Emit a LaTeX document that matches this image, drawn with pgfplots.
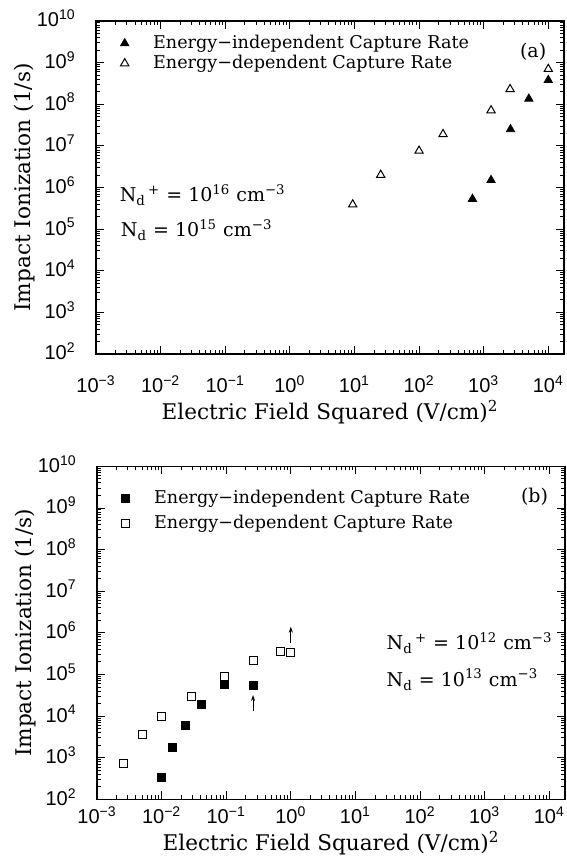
\documentclass[border=0pt]{standalone}
\usepackage{fontspec}
\setmainfont{DejaVu Serif}
\newfontfamily\tickfont{Liberation Sans}
\usepackage{pgfplots}
\pgfplotsset{compat=1.18}
\usetikzlibrary{arrows.meta}

\pgfplotsset{
  every axis/.append style={
    scale only axis, width=234pt, height=166.5pt,
    tick label style={font=\tickfont\fontsize{10}{12}\selectfont},
    yticklabel style={anchor=base east, inner sep=0pt, xshift=-10pt, yshift=-3pt},
    label style={font=\fontsize{10.8}{12}\selectfont},
    ylabel style={at={(axis description cs:-0.152,0.5)}, anchor=center},
    axis line style={line width=0.6pt},
    tick style={black, line width=0.4pt},
    major tick length=4pt, minor tick length=2pt,
    legend style={draw=none, fill=none, anchor=north west, inner sep=0pt,
      font=\fontsize{8.8}{11}\selectfont,
      nodes={inner sep=1pt, text height=6.5pt, text depth=1.5pt}},
    legend cell align=left,
    legend image code/.code={\draw[#1] plot coordinates {(0pt,0pt)}; \path (-2.5pt,0pt) (13pt,0pt);},
    clip=false,
  },
}
\tikzset{anno/.style={font=\fontsize{9.5}{11}\selectfont, anchor=west, inner sep=0pt}}

\begin{document}
\begin{tikzpicture}
\path[use as bounding box] (0,0) rectangle (283.5pt,433.5pt);

% (a)
\begin{axis}[at={(48pt,256.5pt)}, anchor=south west,
  xmode=log, ymode=log,
  xmin=1e-3, xmax=1.75e4, ymin=1e2, ymax=1e10,
  xtick={1e-3,1e-2,1e-1,1,1e1,1e2,1e3,1e4},
  xticklabels={10\textsuperscript{−3},10\textsuperscript{−2},10\textsuperscript{−1},10\textsuperscript{0},
    10\textsuperscript{1},10\textsuperscript{2},10\textsuperscript{3},10\textsuperscript{4}},
  ytick={1e2,1e3,1e4,1e5,1e6,1e7,1e8,1e9,1e10},
  yticklabels={10\textsuperscript{2},10\textsuperscript{3},10\textsuperscript{4},10\textsuperscript{5},
    10\textsuperscript{6},10\textsuperscript{7},10\textsuperscript{8},10\textsuperscript{9},10\textsuperscript{10}},
  ylabel={Impact Ionization (1/s)},
  xlabel={Electric Field Squared (V/cm)\textsuperscript{2}},
  xticklabel style={anchor=base, yshift=-19.5pt},
  xlabel style={at={(axis description cs:0.5,0)}, anchor=center, yshift=-29pt},
  legend style={at={(axis description cs:0.049,0.964)}, row sep=0pt}]
\addplot[only marks, mark=triangle*, mark size=2.4pt, black] coordinates
  {(670,5.3e5) (1300,1.5e6) (2600,2.5e7) (5000,1.35e8) (1e4,3.8e8)};
\addlegendentry{Energy−independent Capture Rate}
\addplot[only marks, mark=triangle, mark size=2.4pt, black, mark options={line width=0.5pt}] coordinates
  {(9.4,3.9e5) (25.5,2e6) (100,7.6e6) (235,1.9e7) (1300,7.1e7) (2560,2.3e8) (1e4,7e8)};
\addlegendentry{Energy−dependent Capture Rate}
\node[anno] at (axis cs:3600,1.8e9) {(a)};
\node[anno] at (axis cs:2.3e-3,6.6e5) {N\textsubscript{d}\textsuperscript{\,+} = 10\textsuperscript{16} cm\textsuperscript{−3}};
\node[anno] at (axis cs:2.4e-3,9.5e4) {N\textsubscript{d} = 10\textsuperscript{15} cm\textsuperscript{−3}};
\end{axis}

% (b)
\begin{axis}[at={(48.5pt,33.85pt)}, anchor=south west,
  xmode=log, ymode=log,
  xmin=1e-3, xmax=1.75e4, ymin=1e2, ymax=1e10,
  xtick={1e-3,1e-2,1e-1,1,1e1,1e2,1e3,1e4},
  xticklabels={10\textsuperscript{−3},10\textsuperscript{−2},10\textsuperscript{−1},10\textsuperscript{0},
    10\textsuperscript{1},10\textsuperscript{2},10\textsuperscript{3},10\textsuperscript{4}},
  ytick={1e2,1e3,1e4,1e5,1e6,1e7,1e8,1e9,1e10},
  yticklabels={10\textsuperscript{2},10\textsuperscript{3},10\textsuperscript{4},10\textsuperscript{5},
    10\textsuperscript{6},10\textsuperscript{7},10\textsuperscript{8},10\textsuperscript{9},10\textsuperscript{10}},
  ylabel={Impact Ionization (1/s)},
  xlabel={Electric Field Squared (V/cm)\textsuperscript{2}},
  xticklabel style={anchor=base, yshift=-12pt},
  xlabel style={at={(axis description cs:0.5,0)}, anchor=center, yshift=-22pt},
  legend style={at={(axis description cs:0.049,0.936)}, row sep=2.5pt}]
\addplot[only marks, mark=square*, mark size=2pt, black] coordinates
  {(0.01,340) (0.0148,1800) (0.0237,6000) (0.041,1.95e4) (0.094,5.8e4) (0.26,5.6e4)};
\addlegendentry{Energy−independent Capture Rate}
\addplot[only marks, mark=square, mark size=2pt, black, mark options={line width=0.5pt}] coordinates
  {(0.0026,710) (0.0051,3700) (0.01,9500) (0.029,2.9e4) (0.094,8.8e4) (0.26,2.2e5) (0.68,3.6e5) (1.0,3.4e5)};
\addlegendentry{Energy−dependent Capture Rate}
\node[anno] at (axis cs:3600,1.9e9) {(b)};
\node[anno] at (axis cs:30,5.7e5) {N\textsubscript{d}\textsuperscript{\,+} = 10\textsuperscript{12} cm\textsuperscript{−3}};
\node[anno] at (axis cs:30,7.4e4) {N\textsubscript{d} = 10\textsuperscript{13} cm\textsuperscript{−3}};
\draw[line width=0.4pt, -{Stealth[length=3pt,width=2pt]}] (axis cs:1.0,5.7e5) -- (axis cs:1.0,1.4e6);
\draw[line width=0.4pt, -{Stealth[length=3pt,width=2pt]}] (axis cs:0.26,1.3e4) -- (axis cs:0.26,3.2e4);
\end{axis}
\end{tikzpicture}
\end{document}
